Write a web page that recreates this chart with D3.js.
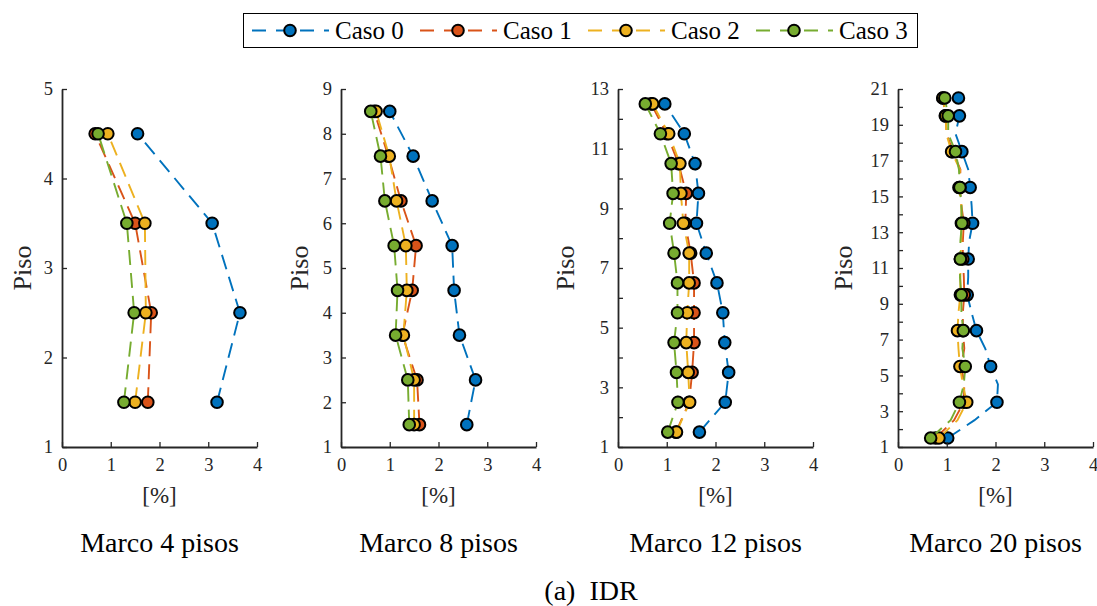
<!DOCTYPE html>
<html>
<head>
<meta charset="utf-8">
<script src="https://cdn.jsdelivr.net/npm/d3@7"></script>
<style>
  body { margin: 0; background: #fff; }
  svg text { font-family: "Liberation Serif", "DejaVu Serif", "Times New Roman", serif; }
</style>
</head>
<body>
<svg id="chart" width="1097" height="606"></svg>
<script>
// series names and colours (MATLAB default order)
const cases = ["Caso 0", "Caso 1", "Caso 2", "Caso 3"];
const colors = ["#0072BD", "#D95319", "#EDB120", "#77AC30"];

// Marco 4 pisos
const floors4 = [1.5, 2.5, 3.5, 4.5];
const idr4 = [
  [3.18, 3.65, 3.08, 1.55],
  [1.76, 1.83, 1.50, 0.68],
  [1.50, 1.72, 1.70, 0.94],
  [1.27, 1.48, 1.33, 0.74]
];

// Marco 8 pisos
const floors8 = [1.5, 2.5, 3.5, 4.5, 5.5, 6.5, 7.5, 8.5];
const idr8 = [
  [2.58, 2.76, 2.43, 2.32, 2.28, 1.87, 1.48, 1.00],
  [1.61, 1.56, 1.26, 1.46, 1.54, 1.23, 0.97, 0.68],
  [1.50, 1.50, 1.28, 1.35, 1.33, 1.14, 0.99, 0.72],
  [1.40, 1.37, 1.12, 1.16, 1.09, 0.90, 0.81, 0.61]
];

// Marco 12 pisos
const floors12 = [1.5, 2.5, 3.5, 4.5, 5.5, 6.5, 7.5, 8.5, 9.5, 10.5, 11.5, 12.5];
const idr12 = [
  [1.67, 2.20, 2.27, 2.19, 2.15, 2.03, 1.81, 1.61, 1.65, 1.58, 1.36, 0.96],
  [1.19, 1.46, 1.52, 1.56, 1.56, 1.56, 1.49, 1.38, 1.40, 1.24, 1.00, 0.68],
  [1.20, 1.47, 1.44, 1.40, 1.42, 1.46, 1.46, 1.34, 1.29, 1.27, 1.04, 0.71],
  [1.02, 1.23, 1.20, 1.15, 1.22, 1.22, 1.15, 1.06, 1.13, 1.09, 0.87, 0.56]
];

// Marco 20 pisos (markers only on some floors)
const floors20 = [1.5, 2.5, 3.5, 4.5, 5.5, 6.5, 7.5, 8.5, 9.5, 10.5,
                  11.5, 12.5, 13.5, 14.5, 15.5, 16.5, 17.5, 18.5, 19.5, 20.5];
const idr20 = [
  [1.02, 1.57, 2.03, 2.05, 1.90, 1.79, 1.61, 1.51, 1.42, 1.44, 1.44, 1.46, 1.53, 1.51, 1.48, 1.44, 1.31, 1.18, 1.26, 1.24],
  [0.77, 1.15, 1.35, 1.36, 1.30, 1.36, 1.33, 1.33, 1.36, 1.35, 1.33, 1.33, 1.35, 1.30, 1.27, 1.28, 1.12, 1.00, 0.97, 0.92],
  [0.84, 1.22, 1.41, 1.33, 1.27, 1.24, 1.22, 1.24, 1.28, 1.28, 1.28, 1.30, 1.30, 1.30, 1.25, 1.27, 1.10, 0.99, 0.98, 0.92],
  [0.67, 1.08, 1.26, 1.35, 1.38, 1.32, 1.34, 1.30, 1.30, 1.27, 1.28, 1.28, 1.31, 1.30, 1.27, 1.25, 1.18, 1.03, 1.03, 0.96]
];
const marked20 = [1.5, 3.5, 5.5, 7.5, 9.5, 11.5, 13.5, 15.5, 17.5, 19.5, 20.5];

const xTicks = [0, 1, 2, 3, 4];
const panelTitles = ["Marco 4 pisos", "Marco 8 pisos", "Marco 12 pisos", "Marco 20 pisos"];
const caption = "(a)  IDR";

const panels = [
  { floors: floors4, data: idr4, yMax: 5, labelStep: 1, marked: floors4 },
  { floors: floors8, data: idr8, yMax: 9, labelStep: 1, marked: floors8 },
  { floors: floors12, data: idr12, yMax: 13, labelStep: 2, marked: floors12 },
  { floors: floors20, data: idr20, yMax: 21, labelStep: 2, marked: marked20 }
];

const serif = "'Liberation Serif', 'DejaVu Serif', 'Times New Roman', serif";
const svg = d3.select("#chart").style("font-family", serif);
const axisColor = "#262626";
const lefts = [62, 341, 618, 898];
const labelOffset = [40, 42, 53, 55];
const pw = 195, plotTop = 89, plotBottom = 447;
const dash = "15,8";

panels.forEach((p, k) => {
  const x = d3.scaleLinear().domain([0, 4]).range([lefts[k], lefts[k] + pw]);
  const y = d3.scaleLinear().domain([1, p.yMax]).range([plotBottom, plotTop]);
  const g = svg.append("g");

  // series: line then markers, in order so green sits on top
  p.data.forEach((vals, i) => {
    const pts = vals.map((v, j) => [v, p.floors[j]]);
    g.append("path")
      .attr("d", d3.line().x(d => x(d[0])).y(d => y(d[1]))(pts))
      .attr("fill", "none")
      .attr("stroke", colors[i])
      .attr("stroke-width", 1.9)
      .attr("stroke-dasharray", dash);
    g.selectAll(null)
      .data(pts.filter(d => p.marked.includes(d[1])))
      .join("circle")
      .attr("cx", d => x(d[0]))
      .attr("cy", d => y(d[1]))
      .attr("r", 5.8)
      .attr("fill", colors[i])
      .attr("stroke", "#000")
      .attr("stroke-width", 2);
  });

  // y axis (ticks inward)
  const yt = d3.range(1, p.yMax + 1);
  const yAxis = d3.axisLeft(y).tickValues(yt).tickSizeInner(-5).tickSizeOuter(0)
    .tickFormat(d => ((d - 1) % p.labelStep === 0 ? String(d) : ""));
  const ya = g.append("g").attr("transform", `translate(${lefts[k]},0)`).call(yAxis);

  // x axis
  const xAxis = d3.axisBottom(x).tickValues(xTicks).tickSizeInner(-5).tickSizeOuter(0)
    .tickFormat(d3.format("d"));
  const xa = g.append("g").attr("transform", `translate(0,${plotBottom})`).call(xAxis);

  [ya, xa].forEach(a => {
    a.attr("font-family", serif).attr("font-size", 18.5);
    a.select(".domain").attr("stroke", axisColor).attr("stroke-width", 1.8);
    a.selectAll(".tick line").attr("stroke", axisColor).attr("stroke-width", 1.3);
    a.selectAll("text").attr("fill", axisColor);
  });
  ya.selectAll("text").attr("x", -9);
  xa.selectAll("text").attr("y", 11);

  // labels
  g.append("text")
    .attr("transform", `translate(${lefts[k] - labelOffset[k]},${(plotTop + plotBottom) / 2}) rotate(-90)`)
    .attr("text-anchor", "middle")
    .attr("dy", "0.35em")
    .attr("font-size", 26)
    .attr("fill", axisColor)
    .text("Piso");
  g.append("text")
    .attr("x", lefts[k] + pw / 2).attr("y", 503)
    .attr("text-anchor", "middle")
    .attr("font-size", 23)
    .attr("fill", axisColor)
    .text("[%]");
  g.append("text")
    .attr("x", lefts[k] + pw / 2).attr("y", 552)
    .attr("text-anchor", "middle")
    .attr("font-size", 28)
    .attr("fill", "#000")
    .text(panelTitles[k]);
});

svg.append("text")
  .attr("x", 591).attr("y", 600)
  .attr("text-anchor", "middle")
  .attr("font-size", 28)
  .attr("fill", "#000")
  .style("white-space", "pre")
  .text(caption);

// legend
const leg = svg.append("g");
leg.append("rect")
  .attr("x", 243.5).attr("y", 13.5).attr("width", 674).attr("height", 34)
  .attr("fill", "#fff").attr("stroke", "#000").attr("stroke-width", 1);
cases.forEach((c, i) => {
  const x0 = 252 + i * 168;
  leg.append("line")
    .attr("x1", x0).attr("x2", x0 + 77).attr("y1", 30.5).attr("y2", 30.5)
    .attr("stroke", colors[i]).attr("stroke-width", 1.9)
    .attr("stroke-dasharray", "14,10");
  leg.append("circle")
    .attr("cx", x0 + 38).attr("cy", 30.5).attr("r", 5.8)
    .attr("fill", colors[i]).attr("stroke", "#000").attr("stroke-width", 2);
  leg.append("text")
    .attr("x", x0 + 83).attr("y", 38.5)
    .attr("font-size", 25)
    .attr("fill", "#000")
    .text(c);
});
</script>
</body>
</html>
